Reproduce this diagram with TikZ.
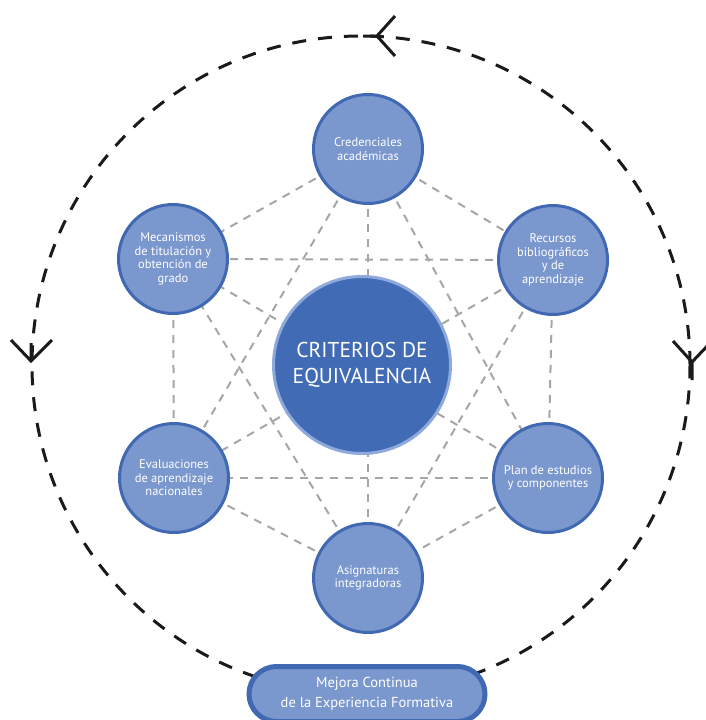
\documentclass[tikz,border=0pt]{standalone}
\usepackage{fontspec}
\setmainfont{PT Sans}
\usetikzlibrary{shapes.misc,backgrounds}
\definecolor{nodeblue}{HTML}{7A97CE}
\definecolor{rimblue}{HTML}{4169B3}
\definecolor{coreblue}{HTML}{416BB4}
\definecolor{corerim}{HTML}{8EA9DB}
\definecolor{linkgrey}{HTML}{A6A6A6}
\definecolor{loopblack}{HTML}{1A1A1A}
\begin{document}
\begin{tikzpicture}[x=1pt,y=-1pt,
  topic/.style={circle, draw=rimblue, fill=nodeblue, line width=3pt,
    minimum size=109pt, inner sep=0pt, text=white, align=center,
    font=\fontsize{12.5}{13.5}\selectfont},
  core/.style={circle, draw=corerim, fill=coreblue, line width=3pt,
    minimum size=177pt, inner sep=0pt, text=white, align=center,
    font=\fontsize{21.5}{26.5}\selectfont},
  pill/.style={rounded rectangle, draw=rimblue, fill=nodeblue, line width=5pt,
    minimum width=236pt, minimum height=55pt, inner sep=0pt, text=white,
    align=center, font=\fontsize{14.5}{20}\selectfont},
  link/.style={draw=linkgrey, line width=2pt, dash pattern=on 8pt off 7pt},
  cycle/.style={circle, draw=loopblack, line width=3pt,
    dash pattern=on 14pt off 12pt, minimum size=658pt, inner sep=0pt},
  tick/.style={draw=loopblack, line width=3pt}]
\useasboundingbox (0,0) rectangle (705,720);

% improvement cycle around the whole scheme
\node[cycle] (loop) at (361,365) {};

% direction marks on the cycle
\coordinate (tA) at (377,36);
\coordinate (tAs) at (363,36);
\coordinate (tAu) at (395,16);
\coordinate (tAd) at (395,56);
\draw[tick] (tAs) -- (tA) (tAu) -- (tA) -- (tAd);
\coordinate (tB) at (31,361);
\coordinate (tBs) at (31,343);
\coordinate (tBl) at (11,340);
\coordinate (tBr) at (52,340);
\draw[tick] (tBs) -- (tB) (tBl) -- (tB) -- (tBr);
\coordinate (tC) at (692,362);
\coordinate (tCs) at (692,380);
\coordinate (tCl) at (673,341);
\coordinate (tCr) at (712,341);
\draw[tick] (tCs) -- (tC) (tCl) -- (tC) -- (tCr);

% central concept
\node[core] (crit) at (362,365) {CRITERIOS DE\\EQUIVALENCIA};

% surrounding criteria
\node[topic] (cred) at (368,149) {Credenciales\\académicas};
\node[topic] (rec)  at (553,260) {Recursos\\bibliográficos\\y de\\aprendizaje};
\node[topic] (plan) at (548,478) {Plan de estudios\\y componentes};
\node[topic] (asig) at (368,578) {Asignaturas\\integradoras};
\node[topic] (eval) at (174,478) {Evaluaciones\\de aprendizaje\\nacionales};
\node[topic] (mec)  at (173,259) {Mecanismos\\de titulación y\\obtención de\\grado};

% every criterion is linked with every other one
\begin{scope}[on background layer]
  \foreach \a/\b in {cred/rec, cred/plan, cred/asig, cred/eval, cred/mec,
                     rec/plan, rec/asig, rec/eval, rec/mec,
                     plan/asig, plan/eval, plan/mec,
                     asig/eval, asig/mec,
                     eval/mec}
    \draw[link] (\a.center) -- (\b.center);
\end{scope}

% continuous improvement label
\node[pill] (mejora) at (367,694) {Mejora Continua\\de la Experiencia Formativa};
\end{tikzpicture}
\end{document}
